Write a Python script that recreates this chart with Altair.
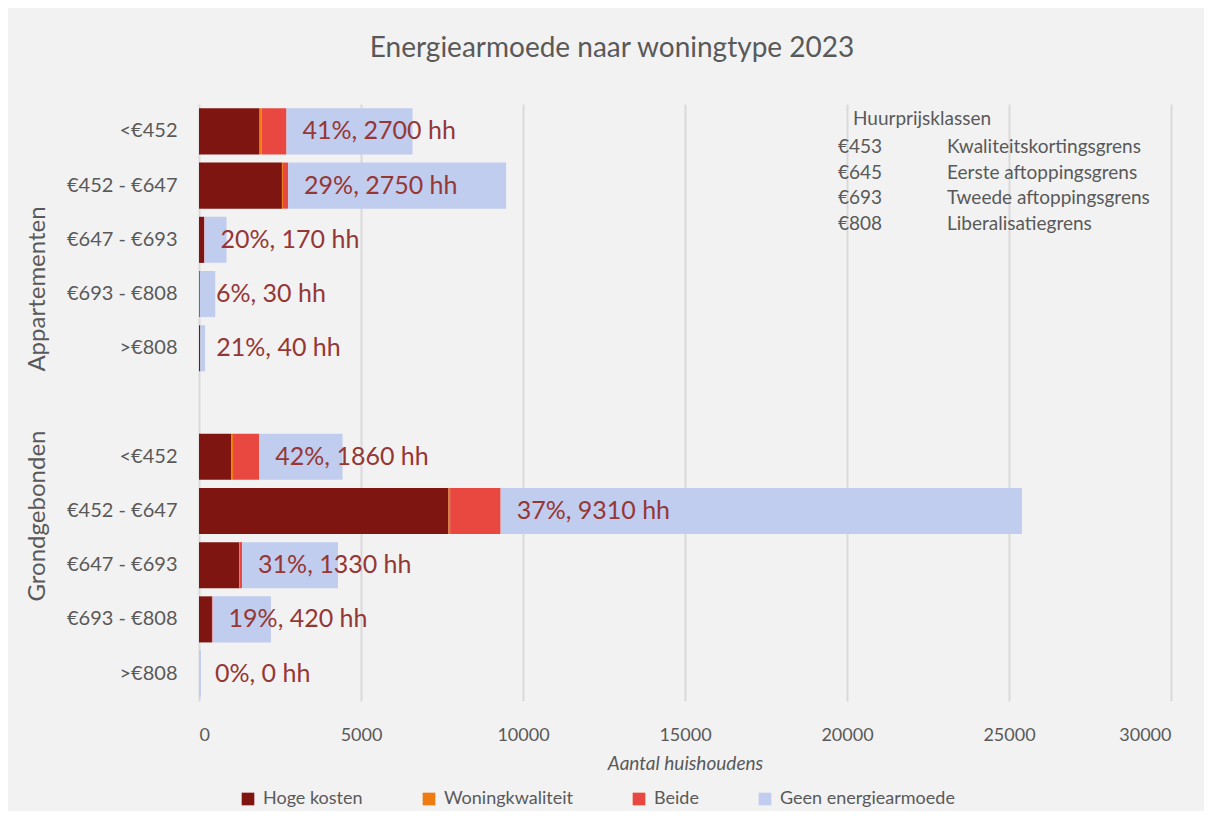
import altair as alt
import pandas as pd

# ---- data ----
groups = ["Appartementen"] * 5 + ["Grondgebonden"] * 5
classes = ["<€452", "€452 - €647", "€647 - €693", "€693 - €808", ">€808"] * 2
hoge_kosten = [1870, 2560, 160, 20, 40, 1000, 7700, 1240, 400, 0]
woningkwaliteit = [60, 30, 0, 0, 0, 50, 50, 10, 0, 0]
beide = [770, 160, 10, 10, 0, 810, 1560, 80, 20, 0]
geen = [3890, 6730, 680, 470, 150, 2570, 16090, 2960, 1800, 60]
pct = [41, 29, 20, 6, 21, 42, 37, 31, 19, 0]
hh = [2700, 2750, 170, 30, 40, 1860, 9310, 1330, 420, 0]

categories = ["Hoge kosten", "Woningkwaliteit", "Beide", "Geen energiearmoede"]
colors = ["#7f1510", "#ee7a10", "#e84840", "#c1cdef"]

prices = ["€453", "€645", "€693", "€808"]
price_names = ["Kwaliteitskortingsgrens", "Eerste aftoppingsgrens",
               "Tweede aftoppingsgrens", "Liberalisatiegrens"]

FONT = "Lato"
GREY = "#595959"

keys = [f"{g}|{c}" for g, c in zip(groups, classes)]
domain = keys[:5] + ["|"] + keys[5:]

rows = []
series = [hoge_kosten, woningkwaliteit, beide, geen]
for i, k in enumerate(keys):
    for j, cat in enumerate(categories):
        rows.append({"key": k, "cat": cat, "ord": j, "value": series[j][i]})
long = pd.DataFrame(rows)

lab = pd.DataFrame({
    "key": keys,
    "armoede": [a + b + c for a, b, c in zip(hoge_kosten, woningkwaliteit, beide)],
    "label": [f"{p}%, {h} hh" for p, h in zip(pct, hh)],
})

yscale = alt.Scale(domain=domain, paddingInner=0.15, paddingOuter=0.08)
xscale = alt.Scale(domain=[0, 30000], nice=False)

bars = alt.Chart(long).mark_bar().encode(
    y=alt.Y("key:N", scale=yscale, title=None,
            axis=alt.Axis(labelExpr="split(datum.value, '|')[1]", ticks=False,
                          domain=False, labelPadding=22, labelFontSize=20,
                          labelColor=GREY, labelFont=FONT, grid=False)),
    x=alt.X("value:Q", stack="zero", scale=xscale, title="Aantal huishoudens",
            axis=alt.Axis(values=[0, 5000, 10000, 15000, 20000, 25000, 30000],
                          format="d", ticks=False, domain=False, labelPadding=25,
                          labelFontSize=18, labelColor=GREY, labelFont=FONT,
                          grid=True, gridColor="#d9d9d9", gridWidth=2,
                          titleFont=FONT, titleFontStyle="italic", titleFontWeight="normal",
                          titleFontSize=19, titleColor=GREY, titlePadding=10)),
    color=alt.Color("cat:N", scale=alt.Scale(domain=categories, range=colors),
                    legend=alt.Legend(title=None, orient="none", direction="horizontal",
                                      legendX=40, legendY=686, symbolType="square",
                                      symbolSize=160, symbolStrokeWidth=0,
                                      labelFontSize=18, labelFont=FONT, labelColor=GREY,
                                      labelLimit=0, columnPadding=57, labelOffset=6,
                                      padding=0)),
    order=alt.Order("ord:Q"),
)

labels = alt.Chart(lab).mark_text(align="left", baseline="middle", dx=16,
                                  fontSize=25, font=FONT, color="#953735").encode(
    y=alt.Y("key:N", scale=yscale),
    x=alt.X("armoede:Q", scale=xscale),
    text="label:N",
)

one = pd.DataFrame({"a": [0]})

title = alt.Chart(one).mark_text(text="Energiearmoede naar woningtype 2023", align="center",
                                 baseline="middle", fontSize=28, font=FONT, color=GREY).encode(
    x=alt.value(413), y=alt.value(-55))

grp1 = alt.Chart(one).mark_text(text="Appartementen", angle=270, align="center",
                                baseline="middle", fontSize=24, font=FONT, color=GREY).encode(
    x=alt.value(-161), y=alt.value(185))
grp2 = alt.Chart(one).mark_text(text="Grondgebonden", angle=270, align="center",
                                baseline="middle", fontSize=24, font=FONT, color=GREY).encode(
    x=alt.value(-161), y=alt.value(412))

box_title = alt.Chart(one).mark_text(text="Huurprijsklassen", align="left", baseline="middle",
                                     fontSize=19, font=FONT, color=GREY).encode(
    x=alt.value(654), y=alt.value(15))
box_prices = alt.Chart(one).mark_text(text=prices, align="left", baseline="top", lineHeight=25.7,
                                      fontSize=19, font=FONT, color=GREY).encode(
    x=alt.value(639), y=alt.value(34))
box_names = alt.Chart(one).mark_text(text=price_names, align="left", baseline="top", lineHeight=25.7,
                                     fontSize=19, font=FONT, color=GREY).encode(
    x=alt.value(748), y=alt.value(34))

chart = alt.layer(bars, labels, title, grp1, grp2, box_title, box_prices, box_names).properties(
    width=972, height=597,
    autosize=alt.AutoSizeParams(type="none"),
    padding={"left": 191, "top": 96, "right": 33, "bottom": 110},
    background="#f2f2f2",
).configure_view(stroke=None)

chart.save("out.html", embed_options={"renderer": "svg", "actions": False})
